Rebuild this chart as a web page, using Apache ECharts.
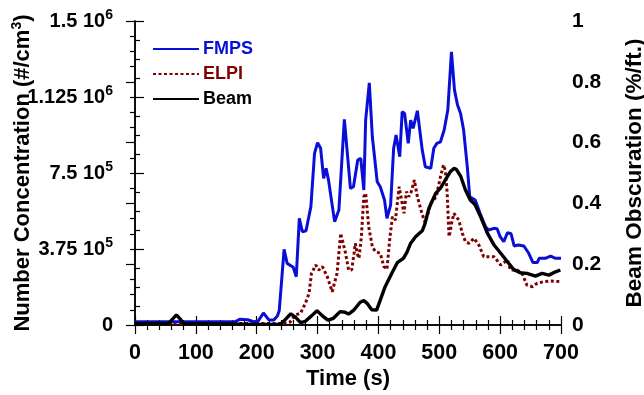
<!DOCTYPE html>
<html><head><meta charset="utf-8">
<script src="https://cdn.jsdelivr.net/npm/echarts/dist/echarts.min.js"></script>
<style>html,body{margin:0;padding:0;background:#fff}#c{width:644px;height:395px}</style>
</head><body><div id="c"></div>
<script>
// ---- data ----
const xTickLabels = ['0','100','200','300','400','500','600','700'];
const leftTickBase = ['0','3.75 10','7.5 10','1.125 10','1.5 10'];
const leftTickExp  = ['','5','5','6','6'];
const rightTickLabels = ['0','0.2','0.4','0.6','0.8','1'];

const fmpsTime = [0,60,120,165,172,185,195,202,211,220,228,234,237,245,250,260,265,270,275,281,289,295,300,305,310,314,318,328,335,344,354,359,366,371,376,379,385,390,398,403,410,414,420,425,429,435,439,443,449,453,457,464,472,477,486,491,496,502,508,514,520,525,530,535,540,546,550,559,567,576,581,590,595,600,606,609,612,618,623,630,639,647,654,661,664,674,683,691,700];
const fmpsValue = [16000,16000,16000,17000,28000,26000,16000,18000,59000,25000,25000,45000,70000,373000,304000,285000,238000,526000,460000,465000,584000,847000,900000,872000,724000,773000,715000,510000,567000,1015000,674000,682000,814000,822000,666000,1011000,1195000,929000,707000,682000,617000,526000,592000,872000,937000,830000,1052000,1044000,896000,1011000,970000,1057000,863000,781000,773000,872000,896000,904000,962000,1061000,1348000,1159000,1085000,1044000,962000,781000,633000,617000,551000,485000,469000,477000,475000,436000,411000,415000,455000,450000,390000,395000,390000,354000,308000,308000,329000,329000,340000,329000,329000];

const elpiTime = [0,100,200,240,255,263,272,280,286,290,297,302,308,316,324,332,338,341,346,351,356,360,362,365,368,372,376,379,384,390,395,403,409,414,419,423,428,434,437,442,446,450,454,459,464,472,477,486,495,502,507,510,513,516,518,520,524,527,532,538,543,549,557,565,573,581,590,601,612,617,628,636,644,653,661,672,683,699];
const elpiValue = [8000,8000,8000,8000,15000,49000,58000,107000,156000,255000,296000,271000,288000,238000,164000,255000,452000,460000,354000,271000,271000,354000,403000,353000,329000,436000,633000,650000,485000,386000,362000,354000,288000,275000,436000,534000,518000,682000,633000,551000,658000,633000,658000,715000,633000,545000,505000,600000,633000,732000,790000,760000,650000,436000,460000,500000,551000,559000,518000,452000,411000,403000,428000,395000,337000,337000,337000,296000,321000,271000,271000,255000,197000,189000,206000,214000,217000,214000];

const beamTime = [0,55,62,68,74,80,120,195,239,248,256,264,272,280,290,299,308,317,326,337,345,351,360,370,376,381,389,397,403,411,422,431,441,447,453,461,472,476,483,494,502,510,518,524,528,535,543,551,559,568,579,590,601,612,622,633,644,658,669,680,691,699];
const beamValue = [0.005,0.005,0.02,0.033,0.02,0.005,0.004,0.002,0.002,0.02,0.037,0.025,0.008,0.012,0.03,0.047,0.03,0.016,0.022,0.044,0.042,0.036,0.05,0.075,0.08,0.072,0.05,0.049,0.082,0.126,0.17,0.205,0.219,0.24,0.269,0.29,0.31,0.33,0.384,0.433,0.45,0.477,0.504,0.515,0.512,0.49,0.444,0.411,0.395,0.356,0.302,0.263,0.236,0.208,0.183,0.172,0.17,0.161,0.17,0.164,0.175,0.181];

const seriesNames = ['FMPS','ELPI','Beam'];
const seriesColors = ['#0a0fd8','#800000','#000000'];

// ---- chart ----
const zip = (a,b) => a.map((t,i)=>[t,b[i]]);
const FONT = "'Liberation Sans', Arial, Helvetica, sans-serif";
const chart = echarts.init(document.getElementById('c'), null, {renderer:'canvas'});

const axisLineStyle = {show:true, lineStyle:{color:'#000', width:1.5}};
const tickStyle = {show:true, inside:true, length:9, lineStyle:{color:'#000', width:1.2}};
const minorStyle = (n) => ({show:true, splitNumber:n, length:5, lineStyle:{color:'#000', width:1.2}});

chart.setOption({
  animation:false,
  backgroundColor:'#fff',
  grid:{left:135, right:83, top:21, bottom:70, containLabel:false, outerBoundsMode:'none'},
  legend:{
    orient:'vertical', left:152, top:40, padding:0, itemWidth:46, itemHeight:14, itemGap:7,
    itemStyle:{opacity:0},
    textStyle:{fontFamily:FONT, fontWeight:'bold', fontSize:18, padding:[0,0,0,-1]},
    data: seriesNames.map((n,i)=>({name:n, textStyle:{color:seriesColors[i]}}))
  },
  xAxis:[{
    type:'value', min:0, max:700, interval:100, position:'bottom',
    name:'Time (s)', nameLocation:'middle', nameGap:43, nameMoveOverlap:false,
    nameTextStyle:{fontFamily:FONT, fontWeight:'bold', fontSize:22, color:'#000'},
    axisLine:axisLineStyle, axisTick:tickStyle, minorTick:minorStyle(5), splitLine:{show:false},
    axisLabel:{margin:17, fontFamily:FONT, fontWeight:'bold', fontSize:21.5, color:'#000',
      formatter:(v)=>xTickLabels[Math.round(v/100)]}
  },{
    type:'value', min:0, max:700, interval:100, position:'top',
    axisLine:axisLineStyle, axisTick:tickStyle, minorTick:minorStyle(5), splitLine:{show:false},
    axisLabel:{show:false}
  }],
  yAxis:[{
    type:'value', min:0, max:1500000, interval:375000, position:'left',
    name:'{n|Number Concentration (#/cm}{s|3}{n|)}', nameLocation:'middle', nameGap:99, nameRotate:90, nameMoveOverlap:false,
    nameTextStyle:{rich:{
      n:{fontFamily:FONT, fontWeight:'bold', fontSize:22, color:'#000'},
      s:{fontFamily:FONT, fontWeight:'bold', fontSize:14, color:'#000', padding:[0,0,12,0]}
    }},
    axisLine:axisLineStyle, axisTick:tickStyle, minorTick:minorStyle(4), splitLine:{show:false},
    axisLabel:{margin:22,
      formatter:(v)=>{const i=Math.round(v/375000); return leftTickExp[i] ? '{b|'+leftTickBase[i]+'}{s|'+leftTickExp[i]+'}' : '{b|'+leftTickBase[i]+'}';},
      rich:{
        b:{fontFamily:FONT, fontWeight:'bold', fontSize:20, color:'#000'},
        s:{fontFamily:FONT, fontWeight:'bold', fontSize:14, color:'#000', padding:[0,0,12,0]}
      }}
  },{
    type:'value', min:0, max:1, interval:0.2, position:'right',
    name:'Beam Obscuration (%/ft.)', nameLocation:'middle', nameGap:62, nameRotate:90, nameMoveOverlap:false,
    nameTextStyle:{fontFamily:FONT, fontWeight:'bold', fontSize:22.5, color:'#000'},
    axisLine:axisLineStyle, axisTick:tickStyle, minorTick:minorStyle(4), splitLine:{show:false},
    axisLabel:{margin:11, fontFamily:FONT, fontWeight:'bold', fontSize:21, color:'#000',
      formatter:(v)=>rightTickLabels[Math.round(v/0.2)]}
  }],
  series:[
    {name:'ELPI', type:'line', xAxisIndex:0, yAxisIndex:0, data:zip(elpiTime,elpiValue), symbol:'none', z:2,
      lineStyle:{color:seriesColors[1], width:3, type:[3,2.5]}, itemStyle:{color:seriesColors[1]}},
    {name:'FMPS', type:'line', xAxisIndex:0, yAxisIndex:0, data:zip(fmpsTime,fmpsValue), symbol:'none', z:3,
      lineStyle:{color:seriesColors[0], width:3}, itemStyle:{color:seriesColors[0]}},
    {name:'Beam', type:'line', xAxisIndex:0, yAxisIndex:1, data:zip(beamTime,beamValue), symbol:'none', z:4,
      lineStyle:{color:seriesColors[2], width:3.4}, itemStyle:{color:seriesColors[2]}}
  ]
});
</script></body></html>
